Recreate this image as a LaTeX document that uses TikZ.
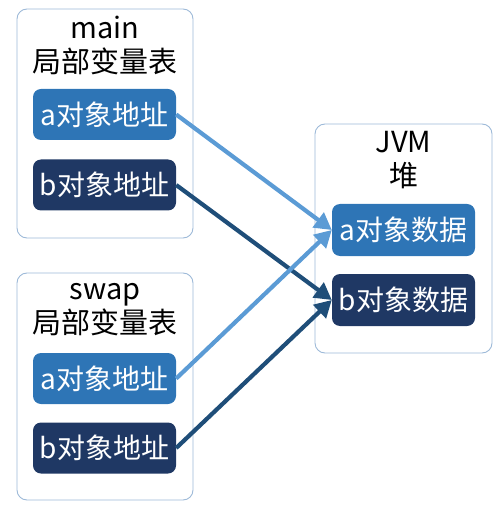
\documentclass[tikz,border=0pt]{standalone}
\usepackage{fontspec}
\setmainfont{Noto Sans CJK SC}
\usepackage{tikz}
\usetikzlibrary{arrows.meta}

\definecolor{framecol}{HTML}{9DB9D8}
\definecolor{acol}{HTML}{2E75B6}
\definecolor{bcol}{HTML}{1F3864}
\definecolor{alink}{HTML}{5B9BD5}
\definecolor{blink}{HTML}{1F4E79}

\begin{document}
\begin{tikzpicture}[x=1pt,y=-1pt,
    frame/.style={draw=framecol, line width=0.9pt, rounded corners=10pt,
        minimum width=176pt, inner sep=0pt},
    title/.style={align=center, font=\fontsize{29}{34}\selectfont},
    cell/.style={rounded corners=8pt, minimum width=143pt, minimum height=51pt,
        inner sep=0pt, text=white, font=\fontsize{28}{30}\selectfont},
    link/.style={line width=4.2pt, -{Triangle[length=17pt,width=18pt]}}]
    \useasboundingbox (0,0) rectangle (500,510);

    % frames
    \node[frame, minimum height=229pt] (mainframe) at (105,123.5) {};
    \node[frame, minimum height=227pt] (swapframe) at (105,386.5) {};
    \node[frame, minimum height=229pt, minimum width=177pt] (heapframe) at (403.5,238.5) {};

    \node[title] (maintitle) at (105,45) {main\\局部变量表};
    \node[title] (swaptitle) at (105,309.5) {swap\\局部变量表};
    \node[title] (heaptitle) at (403.5,160) {JVM\\堆};

    \node[cell, fill=acol] (mainA) at (104.5,114.5) {a对象地址};
    \node[cell, fill=bcol] (mainB) at (104.5,185) {b对象地址};
    \node[cell, fill=acol] (swapA) at (104.5,378.5) {a对象地址};
    \node[cell, fill=bcol] (swapB) at (104.5,448) {b对象地址};
    \node[cell, fill=acol, minimum height=52pt] (heapA) at (403.5,230) {a对象数据};
    \node[cell, fill=bcol, minimum height=52pt] (heapB) at (403.5,300) {b对象数据};

    % references
    \foreach \s/\t in {mainB/heapB, swapB/heapB}
        \draw[link, blink] (\s.east) -- (\t.west);
    \foreach \s/\t in {mainA/heapA, swapA/heapA}
        \draw[link, alink] (\s.east) -- (\t.west);
\end{tikzpicture}
\end{document}
